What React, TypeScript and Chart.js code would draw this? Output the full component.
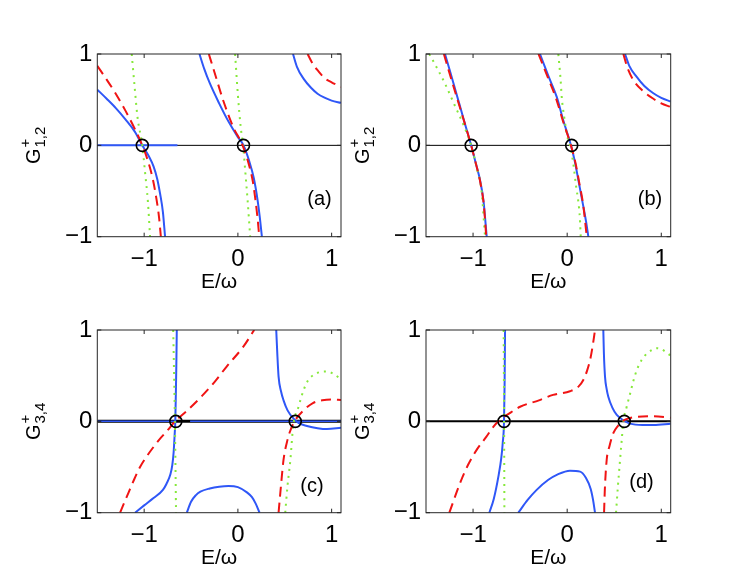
import React, { useEffect, useRef } from 'react';
import { Chart, registerables } from 'chart.js';

Chart.register(...registerables);

type Pt = [number, number];

// ---------- axes ----------
const X_MIN = -1.5;
const X_MAX = 1.1;
const Y_MIN = -1;
const Y_MAX = 1;
const X_TICKS = [-1, 0, 1];
const Y_TICKS = [-1, 0, 1];
const X_TITLE = 'E/\u03c9';

// ---------- panel (a) ----------
const aBlue1: Pt[] = [[-1.5, 0.61], [-1.4, 0.51], [-1.3, 0.405], [-1.2, 0.285], [-1.1, 0.15], [-1.02, 0.0], [-0.95, -0.12], [-0.9, -0.23], [-0.86, -0.37], [-0.83, -0.53], [-0.8, -0.73], [-0.777, -1]];
const aBlue2: Pt[] = [[-0.41, 1], [-0.36, 0.84], [-0.3, 0.68], [-0.2, 0.46], [-0.1, 0.26], [0.0, 0.09], [0.06, 0], [0.12, -0.17], [0.17, -0.36], [0.21, -0.6], [0.235, -0.8], [0.256, -1]];
const aBlue3: Pt[] = [[0.588, 1], [0.63, 0.86], [0.7, 0.73], [0.78, 0.63], [0.85, 0.565], [0.93, 0.52], [1.0, 0.49], [1.1, 0.465]];
const aRed1: Pt[] = [[-1.5, 0.87], [-1.4, 0.72], [-1.3, 0.56], [-1.2, 0.38], [-1.1, 0.18], [-1.02, 0], [-0.96, -0.17], [-0.91, -0.36], [-0.87, -0.58], [-0.84, -0.8], [-0.822, -1]];
const aRed2: Pt[] = [[-0.31, 1], [-0.25, 0.8], [-0.153, 0.48], [-0.05, 0.2], [0.05, 0], [0.12, -0.22], [0.16, -0.4], [0.185, -0.58], [0.21, -0.8], [0.228, -1]];
const aRed3: Pt[] = [[0.744, 1], [0.8, 0.89], [0.86, 0.81], [0.92, 0.74], [1.0, 0.69], [1.1, 0.64]];
const aGreen1: Pt[] = [[-1.133, 1], [-1.1, 0.62], [-1.07, 0.3], [-1.02, 0], [-0.99, -0.3], [-0.96, -0.62], [-0.937, -1]];
const aGreen2: Pt[] = [[-0.03, 1], [0.0, 0.55], [0.03, 0.2], [0.055, 0], [0.08, -0.3], [0.105, -0.62], [0.131, -1]];
const aZeroBlue: Pt[] = [[-1.5, 0], [-0.645, 0]];
const aRoots: Pt[] = [[-1.02, 0], [0.06, 0]];

// ---------- panel (b) ----------
const bBlue1: Pt[] = [[-1.298, 1], [-1.25, 0.83], [-1.2, 0.65], [-1.167, 0.53], [-1.12, 0.36], [-1.068, 0.17], [-1.02, 0], [-0.97, -0.2], [-0.926, -0.38], [-0.89, -0.6], [-0.855, -1]];
const bBlue2: Pt[] = [[-0.289, 1], [-0.2, 0.76], [-0.111, 0.53], [-0.04, 0.27], [0.04, 0], [0.08, -0.17], [0.119, -0.38], [0.17, -0.66], [0.2, -0.83], [0.225, -1]];
const bBlue3: Pt[] = [[0.615, 1], [0.66, 0.87], [0.739, 0.75], [0.82, 0.65], [0.916, 0.57], [1.0, 0.52], [1.1, 0.48]];
const bRed1: Pt[] = [[-1.31, 1], [-1.25, 0.79], [-1.18, 0.55], [-1.1, 0.28], [-1.02, 0], [-0.97, -0.2], [-0.92, -0.42], [-0.885, -0.66], [-0.86, -1]];
const bRed2: Pt[] = [[-0.305, 1], [-0.2, 0.73], [-0.12, 0.52], [-0.04, 0.25], [0.04, 0], [0.09, -0.2], [0.13, -0.42], [0.17, -0.65], [0.208, -1]];
const bRed3: Pt[] = [[0.597, 1], [0.64, 0.85], [0.703, 0.715], [0.8, 0.6], [0.916, 0.51], [1.0, 0.46], [1.1, 0.42]];
const bGreen1: Pt[] = [[-1.465, 1], [-1.38, 0.84], [-1.3, 0.68], [-1.2, 0.45], [-1.1, 0.22], [-1.02, 0], [-0.96, -0.25], [-0.91, -0.5], [-0.873, -1]];
const bGreen2: Pt[] = [[-0.094, 1], [-0.07, 0.72], [-0.058, 0.53], [-0.03, 0.3], [0.012, 0.05], [0.03, 0], [0.065, -0.2], [0.095, -0.45], [0.119, -0.62], [0.135, -0.8], [0.144, -1]];
const bRoots: Pt[] = [[-1.02, 0], [0.048, 0]];

// ---------- panel (c) ----------
const cBlue1: Pt[] = [[-1.097, -1], [-1.0, -0.92], [-0.9, -0.84], [-0.8, -0.75], [-0.76, -0.68], [-0.72, -0.58], [-0.7, -0.48], [-0.685, -0.33], [-0.675, -0.15], [-0.668, 0], [-0.662, 0.3], [-0.657, 0.6], [-0.652, 1]];
const cBlue2: Pt[] = [[-0.545, -1], [-0.5, -0.88], [-0.45, -0.81], [-0.4, -0.77], [-0.3, -0.735], [-0.2, -0.715], [-0.1, -0.707], [0.0, -0.72], [0.1, -0.78], [0.15, -0.83], [0.19, -0.9], [0.231, -1]];
const cBlue3: Pt[] = [[0.409, 1], [0.42, 0.75], [0.434, 0.49], [0.46, 0.33], [0.487, 0.23], [0.53, 0.12], [0.594, 0.03], [0.65, -0.02], [0.737, -0.05], [0.85, -0.075], [0.95, -0.085], [1.1, -0.07]];
const cRed1: Pt[] = [[-1.257, -1], [-1.2, -0.86], [-1.15, -0.74], [-1.1, -0.62], [-1.044, -0.5], [-0.97, -0.38], [-0.9, -0.28], [-0.83, -0.19], [-0.76, -0.11], [-0.67, 0], [-0.55, 0.11], [-0.4, 0.26], [-0.25, 0.43], [-0.12, 0.6], [0.06, 0.82], [0.174, 1]];
const cRed2: Pt[] = [[0.434, -1], [0.46, -0.7], [0.487, -0.42], [0.53, -0.2], [0.56, -0.1], [0.61, 0.01], [0.7, 0.12], [0.8, 0.2], [0.9, 0.23], [1.0, 0.24], [1.1, 0.235]];
const cGreen1: Pt[] = [[-0.69, 1], [-0.672, 0], [-0.66, -1]];
const cGreen2: Pt[] = [[0.505, -1], [0.53, -0.7], [0.56, -0.42], [0.59, -0.05], [0.647, 0.16], [0.7, 0.34], [0.75, 0.45], [0.81, 0.51], [0.88, 0.54], [0.95, 0.545], [1.02, 0.52], [1.1, 0.46]];
const cZeroBlue1: Pt[] = [[-1.5, 0], [-0.66, 0]];
const cZeroBlue2: Pt[] = [[-0.51, 0], [1.1, 0]];
const cRoots: Pt[] = [[-0.662, 0], [0.612, 0]];

// ---------- panel (d) ----------
const dBlue1: Pt[] = [[-0.827, -1], [-0.78, -0.85], [-0.73, -0.6], [-0.7, -0.4], [-0.685, -0.24], [-0.671, 0], [-0.665, 0.4], [-0.66, 1]];
const dBlue2: Pt[] = [[-0.519, -1], [-0.42, -0.86], [-0.324, -0.75], [-0.2, -0.64], [-0.1, -0.58], [0.03, -0.54], [0.137, -0.55], [0.2, -0.62], [0.25, -0.74], [0.275, -0.86], [0.296, -1]];
const dBlue3: Pt[] = [[0.384, 1], [0.39, 0.75], [0.402, 0.49], [0.42, 0.35], [0.437, 0.27], [0.48, 0.15], [0.527, 0.07], [0.6, 0.01], [0.668, -0.025], [0.8, -0.04], [0.92, -0.04], [1.1, -0.025]];
const dRed1: Pt[] = [[-1.252, -1], [-1.14, -0.68], [-1.05, -0.47], [-0.96, -0.31], [-0.86, -0.17], [-0.785, -0.06], [-0.7, 0.03], [-0.64, 0.07], [-0.5, 0.16], [-0.3, 0.23], [-0.15, 0.29], [0.03, 0.33], [0.12, 0.38], [0.17, 0.45], [0.21, 0.55], [0.243, 0.67], [0.27, 0.82], [0.296, 1]];
const dRed2: Pt[] = [[0.392, -1], [0.4, -0.75], [0.42, -0.42], [0.45, -0.27], [0.49, -0.13], [0.54, -0.05], [0.6, 0.01], [0.68, 0.04], [0.75, 0.05], [0.9, 0.055], [1.1, 0.04]];
const dGreen1: Pt[] = [[-0.675, 1], [-0.67, 0], [-0.667, -1]];
const dGreen2: Pt[] = [[0.519, -1], [0.54, -0.7], [0.562, -0.42], [0.58, -0.2], [0.597, 0], [0.63, 0.15], [0.668, 0.3], [0.7, 0.43], [0.739, 0.56], [0.79, 0.67], [0.845, 0.74], [0.9, 0.78], [0.952, 0.8], [1.0, 0.79], [1.1, 0.72]];
const dRoots: Pt[] = [[-0.671, 0], [0.607, 0]];

const ZERO_LINE: Pt[] = [[X_MIN, 0], [X_MAX, 0]];

// ---------- styles ----------
const W = 747;
const H = 577;
const FONT = '"Liberation Sans", Arial, Helvetica, sans-serif';
const BLUE = '#2f57f7';
const RED = '#f01414';
const GREEN = '#86e83a';
const FRAME = '#262626';

interface Panel {
  rect: { left: number; top: number; right: number; bottom: number };
  tag: string;
  tagPos: Pt;
  sub: string;
  blue: Pt[][];
  red: Pt[][];
  green: Pt[][];
  zeroBlue: Pt[][];
  zeroWidth: number;
  zeroBlueWidth: number;
  roots: Pt[];
}

const PANELS: Panel[] = [
  { rect: { left: 97.3, top: 54, right: 341, bottom: 236.7 }, tag: '(a)', tagPos: [0.87, -0.59], sub: '1,2',
    blue: [aBlue1, aBlue2, aBlue3], red: [aRed1, aRed2, aRed3], green: [aGreen1, aGreen2], zeroBlue: [aZeroBlue], zeroWidth: 1, zeroBlueWidth: 2, roots: aRoots },
  { rect: { left: 426, top: 54, right: 670.7, bottom: 236.7 }, tag: '(b)', tagPos: [0.88, -0.59], sub: '1,2',
    blue: [bBlue1, bBlue2, bBlue3], red: [bRed1, bRed2, bRed3], green: [bGreen1, bGreen2], zeroBlue: [], zeroWidth: 1, zeroBlueWidth: 2, roots: bRoots },
  { rect: { left: 97.3, top: 330, right: 341, bottom: 512.7 }, tag: '(c)', tagPos: [0.79, -0.71], sub: '3,4',
    blue: [cBlue1, cBlue2, cBlue3], red: [cRed1, cRed2], green: [cGreen1, cGreen2], zeroBlue: [cZeroBlue1, cZeroBlue2], zeroWidth: 3, zeroBlueWidth: 1.5, roots: cRoots },
  { rect: { left: 426, top: 330, right: 670.7, bottom: 512.7 }, tag: '(d)', tagPos: [0.79, -0.67], sub: '3,4',
    blue: [dBlue1, dBlue2, dBlue3], red: [dRed1, dRed2], green: [dGreen1, dGreen2], zeroBlue: [], zeroWidth: 2, zeroBlueWidth: 2, roots: dRoots },
];

const toXY = (pts: Pt[]) => pts.map(([x, y]) => ({ x, y }));
const fmt = (v: number) => (v < 0 ? '\u2212' + Math.abs(v) : String(v));

const Y_AXIS_W = 40;
const X_AXIS_H = 40;

const decorPlugin = {
  id: 'decor',
  afterDatasetsDraw(chart: any, _args: any, opts: any) {
    const { ctx, chartArea: ca, scales } = chart;
    const xs = scales.x;
    const ys = scales.y;
    ctx.save();
    // frame
    ctx.strokeStyle = FRAME;
    ctx.lineWidth = 1;
    ctx.strokeRect(ca.left, ca.top, ca.right - ca.left, ca.bottom - ca.top);
    // inward tick marks on all sides
    const seg = (x1: number, y1: number, x2: number, y2: number) => {
      ctx.beginPath();
      ctx.moveTo(x1, y1);
      ctx.lineTo(x2, y2);
      ctx.stroke();
    };
    const TL = 4;
    X_TICKS.forEach((v) => {
      const px = xs.getPixelForValue(v);
      seg(px, ca.bottom, px, ca.bottom - TL);
      seg(px, ca.top, px, ca.top + TL);
    });
    Y_TICKS.forEach((v) => {
      const py = ys.getPixelForValue(v);
      seg(ca.left, py, ca.left + TL, py);
      seg(ca.right, py, ca.right - TL, py);
    });
    // panel tag
    ctx.fillStyle = '#000';
    ctx.font = `20px ${FONT}`;
    ctx.textAlign = 'center';
    ctx.textBaseline = 'middle';
    ctx.fillText(opts.tag, xs.getPixelForValue(opts.tagPos[0]), ys.getPixelForValue(opts.tagPos[1]));
    // x title
    ctx.font = `21px ${FONT}`;
    ctx.fillText(X_TITLE, (ca.left + ca.right) / 2, ca.bottom + 46);
    // y title: G with superscript + and subscript
    ctx.translate(ca.left - 57, (ca.top + ca.bottom) / 2);
    ctx.rotate(-Math.PI / 2);
    ctx.textAlign = 'left';
    ctx.textBaseline = 'alphabetic';
    ctx.font = `20px ${FONT}`;
    const wG = ctx.measureText('G').width;
    ctx.font = `15px ${FONT}`;
    const wS = Math.max(ctx.measureText('+').width, ctx.measureText(opts.sub).width);
    const sx = -(wG + 1 + wS) / 2;
    ctx.font = `20px ${FONT}`;
    ctx.fillText('G', sx, 0);
    ctx.font = `15px ${FONT}`;
    ctx.fillText('+', sx + wG + 1, -10);
    ctx.fillText(opts.sub, sx + wG + 1, 5);
    ctx.restore();
  },
};

function buildConfig(p: Panel): any {
  const curve = (pts: Pt[], color: string, dash: number[], width: number, order: number) => ({
    data: toXY(pts),
    borderColor: color,
    borderWidth: width,
    borderDash: dash,
    pointRadius: 0,
    fill: false,
    cubicInterpolationMode: 'monotone',
    order,
  });
  const datasets: any[] = [];
  datasets.push({ ...curve(ZERO_LINE, '#000', [], p.zeroWidth, 6), cubicInterpolationMode: 'default', tension: 0 });
  p.zeroBlue.forEach((z) => datasets.push({ ...curve(z, BLUE, [], p.zeroBlueWidth, 5), cubicInterpolationMode: 'default', tension: 0 }));
  p.blue.forEach((c) => datasets.push(curve(c, BLUE, [], 2, 4)));
  p.green.forEach((c) => datasets.push({ ...curve(c, GREEN, [2, 5], 2, 3), borderCapStyle: 'butt' }));
  p.red.forEach((c) => datasets.push({ ...curve(c, RED, [10, 6], 2, 2), borderCapStyle: 'butt' }));
  datasets.push({
    data: toXY(p.roots),
    showLine: false,
    pointRadius: 6,
    pointBorderWidth: 1.6,
    pointBorderColor: '#000',
    pointBackgroundColor: 'rgba(0,0,0,0)',
    borderColor: '#000',
    order: 0,
  });

  const fixTicks = (vals: number[]) => (scale: any) => {
    scale.ticks = vals.map((value) => ({ value }));
  };

  return {
    type: 'line',
    data: { datasets },
    plugins: [decorPlugin],
    options: {
      animation: false,
      responsive: false,
      devicePixelRatio: window.devicePixelRatio || 1,
      events: [],
      layout: {
        padding: {
          left: p.rect.left - Y_AXIS_W,
          right: W - p.rect.right,
          top: p.rect.top,
          bottom: H - p.rect.bottom - X_AXIS_H,
        },
      },
      plugins: {
        legend: { display: false },
        tooltip: { enabled: false },
        decor: { tag: p.tag, tagPos: p.tagPos, sub: p.sub },
      },
      scales: {
        x: {
          type: 'linear',
          min: X_MIN,
          max: X_MAX,
          grid: { display: false, drawTicks: false },
          border: { display: false },
          afterBuildTicks: fixTicks(X_TICKS),
          afterFit: (s: any) => {
            s.height = X_AXIS_H;
            s.paddingLeft = 0;
            s.paddingRight = 0;
          },
          ticks: {
            autoSkip: false,
            maxRotation: 0,
            padding: 8,
            color: '#000',
            font: { family: FONT, size: 24 },
            callback: (v: number) => fmt(v),
          },
        },
        y: {
          type: 'linear',
          min: Y_MIN,
          max: Y_MAX,
          grid: { display: false, drawTicks: false },
          border: { display: false },
          afterBuildTicks: fixTicks(Y_TICKS),
          afterFit: (s: any) => {
            s.width = Y_AXIS_W;
            s.paddingTop = 0;
            s.paddingBottom = 0;
          },
          ticks: {
            autoSkip: false,
            padding: 5,
            color: '#000',
            font: { family: FONT, size: 24 },
            callback: (v: number) => fmt(v),
          },
        },
      },
    },
  };
}

function PanelChart({ panel }: { panel: Panel }) {
  const ref = useRef<HTMLCanvasElement | null>(null);
  useEffect(() => {
    if (!ref.current) return;
    const chart = new Chart(ref.current, buildConfig(panel));
    return () => chart.destroy();
  }, [panel]);
  return (
    <canvas
      ref={ref}
      width={W}
      height={H}
      style={{ position: 'absolute', left: 0, top: 0, width: W, height: H }}
    />
  );
}

export default function App() {
  return (
    <div style={{ position: 'absolute', left: 0, top: 0, width: W, height: H, background: '#fff', overflow: 'hidden' }}>
      {PANELS.map((p, i) => (
        <PanelChart key={i} panel={p} />
      ))}
    </div>
  );
}
